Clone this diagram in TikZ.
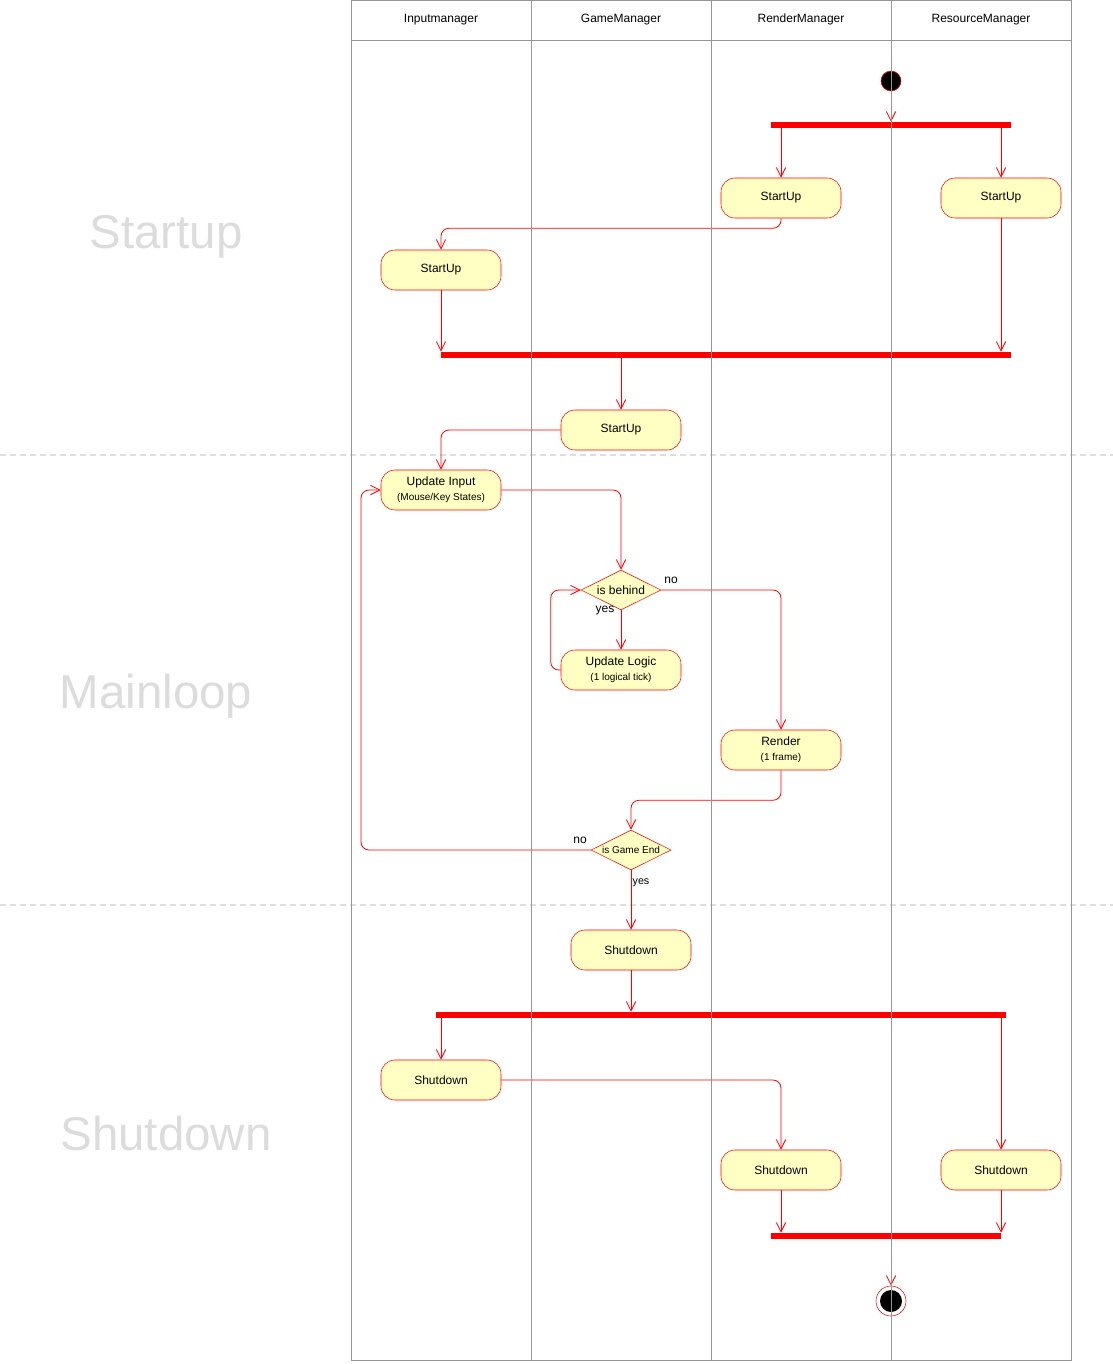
\documentclass[tikz,border=0pt]{standalone}
\usepackage{fontspec}
\setmainfont{Liberation Sans}
\usetikzlibrary{arrows.meta,shapes.geometric}
\definecolor{actfill}{RGB}{255,255,196}
\definecolor{lred}{RGB}{255,0,0}
\definecolor{lanegray}{RGB}{150,150,150}
\definecolor{sepgray}{RGB}{222,222,222}
\definecolor{biggray}{RGB}{220,220,220}
\begin{document}
\begin{tikzpicture}[x=0.75pt,y=-0.75pt,
  act/.style={draw=lred, fill=actfill, rounded corners=10.5pt, minimum width=90pt, minimum height=30pt, inner sep=0pt, font=\fontsize{9}{11}\selectfont, align=center},
  dec/.style={shape=diamond, draw=lred, fill=actfill, minimum width=60pt, minimum height=30pt, inner sep=0pt},
  bar/.style={fill=lred, inner sep=0pt, minimum height=4.5pt},
  flow/.style={draw=lred, line width=0.6pt, -{Straight Barb[length=7pt,width=7pt]}, rounded corners=6pt},
  lane/.style={draw=lanegray, line width=0.7pt},
  head/.style={font=\fontsize{9}{11}\selectfont},
  lbl/.style={font=\fontsize{9}{11}\selectfont, inner sep=0pt},
  big/.style={font=\fontsize{35.6}{40}\selectfont, text=biggray, anchor=base, inner sep=0pt}
]
\useasboundingbox (0,0) rectangle (1113,1364);

% separators
\draw[sepgray, dashed, dash pattern=on 4.5pt off 3pt, line width=0.8pt] (0,455) -- (1113,455);
\draw[sepgray, dashed, dash pattern=on 4.5pt off 3pt, line width=0.8pt] (0,905) -- (1113,905);

% big labels
\node[big] (lstartup) at (166,248) {Startup};
\node[big] (lmain) at (156,708) {Mainloop};
\node[big] (lshut) at (166,1150) {Shutdown};

% headers
\node[head] (h1) at (441,19.5) {Inputmanager};
\node[head] (h2) at (621,19.5) {GameManager};
\node[head] (h3) at (801,19.5) {RenderManager};
\node[head] (h4) at (981,19.5) {ResourceManager};

% start / end
\node[circle, fill=black, draw=lred, minimum size=15pt, inner sep=0pt] (start) at (891,81) {};
\node[circle, fill=white, draw=lred, minimum size=22.5pt, inner sep=0pt] (endn) at (891,1301) {};
\node[circle, fill=black, minimum size=16.5pt, inner sep=0pt] (endin) at (891,1301) {};

% bars
\node[bar, minimum width=180pt] (bar1) at (891,125) {};
\node[bar, minimum width=427.5pt] (bar2) at (726,355) {};
\node[bar, minimum width=427.5pt] (bar3) at (721,1015) {};
\node[bar, minimum width=172.5pt] (bar4) at (886,1236) {};

% activities
\node[act] (rms) at (781,198) {StartUp};
\node[act] (ress) at (1001,198) {StartUp};
\node[act] (ims) at (441,270) {StartUp};
\node[act] (gms) at (621,430) {StartUp};
\node[act] (ui) at (441,490) {Update Input\\[0.5pt]{\fontsize{7.5}{9}\selectfont (Mouse/Key States)}};
\node[act] (ul) at (621,670) {Update Logic\\[0.5pt]{\fontsize{7.5}{9}\selectfont (1 logical tick)}};
\node[act] (render) at (781,750) {Render\\[0.5pt]{\fontsize{7.5}{9}\selectfont (1 frame)}};
\node[act] (gms2) at (631,950) {Shutdown};
\node[act] (ims2) at (441,1080) {Shutdown};
\node[act] (rms2) at (781,1170) {Shutdown};
\node[act] (ress2) at (1001,1170) {Shutdown};

% decisions
\node[dec] (behind) at (621,590) {};
\node[font=\fontsize{9}{11}\selectfont, inner sep=0pt] (behindt) at (621,590) {is behind};
\node[dec] (gameend) at (631,850) {};
\node[font=\fontsize{7.5}{9}\selectfont, inner sep=0pt] (gameendt) at (631,850) {is Game End};
\coordinate (lp) at (361,850);

% connectors
\draw[flow] (start.south) -- (start.south |- bar1.north);
\draw[flow] (bar1.south -| rms.north) -- (rms.north);
\draw[flow] (bar1.south -| ress.north) -- (ress.north);
\draw[flow] (rms.south) -- ++(0,10) -| (ims.north);
\draw[flow] (ims.south) -- (ims.south |- bar2.north);
\draw[flow] (ress.south) -- (ress.south |- bar2.north);
\draw[flow] (bar2.south -| gms.north) -- (gms.north);
\draw[flow] (gms.west) -| (ui.north);
\draw[flow] (ui.east) -| (behind.north);
\draw[flow] (behind.east) -| (render.north);
\draw[flow] (behind.south) -- (ul.north);
\draw[flow] (ul.west) -- ++(-10,0) |- (behind.west);
\draw[flow] (render.south) -- ++(0,30) -| (gameend.north);
\draw[flow] (gameend.west) -- (lp) |- (ui.west);
\draw[flow] (gameend.south) -- (gms2.north);
\draw[flow] (gms2.south) -- (gms2.south |- bar3.north);
\draw[flow] (bar3.south -| ims2.north) -- (ims2.north);
\draw[flow] (bar3.south -| ress2.north) -- (ress2.north);
\draw[flow] (ims2.east) -| (rms2.north);
\draw[flow] (rms2.south) -- (rms2.south |- bar4.north);
\draw[flow] (ress2.south) -- (ress2.south |- bar4.north);
\draw[flow] (bar4.south -| endn.north) -- (endn.north);

% guard labels
\node[lbl] (no1) at (671,580) {no};
\node[lbl] (yes1) at (605,610.5) {yes};
\node[lbl] (no2) at (580,840) {no};
\node[lbl, font=\fontsize{8}{10}\selectfont] (yes2) at (641,882.5) {yes};

% lanes on top
\draw[lane] (351,0) rectangle (1071,1360);
\draw[lane] (351,40) -- (1071,40);
\draw[lane] (531,0) -- (531,1360);
\draw[lane] (711,0) -- (711,1360);
\draw[lane] (891,0) -- (891,1360);
\end{tikzpicture}
\end{document}
